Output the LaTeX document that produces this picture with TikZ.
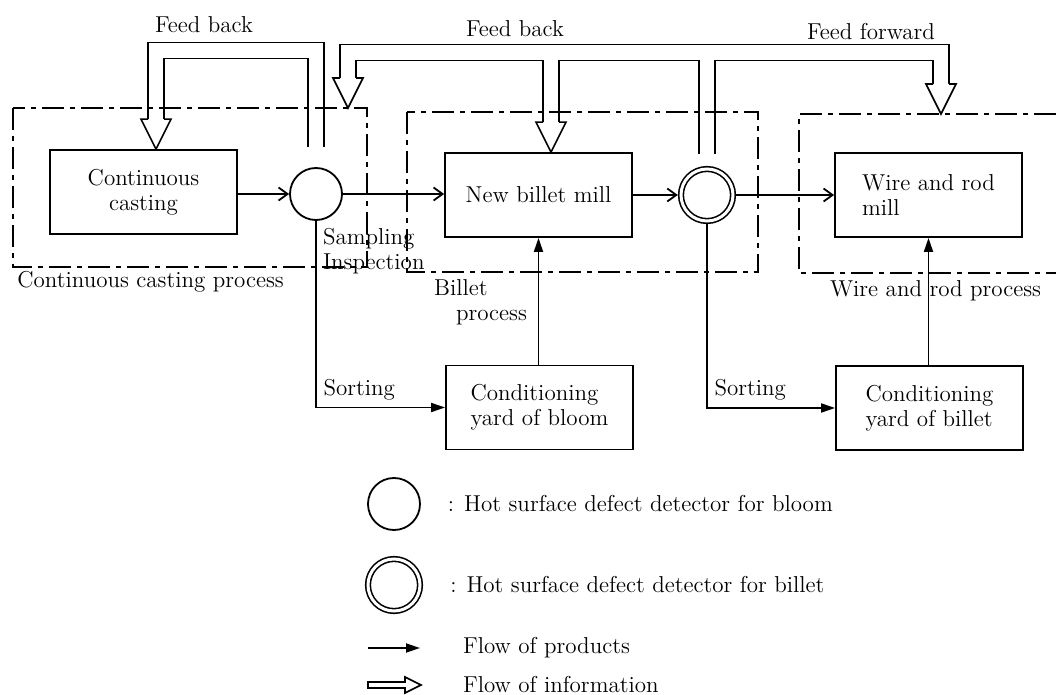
\documentclass[tikz,border=0pt]{standalone}
\usepackage{tikz}
\usetikzlibrary{arrows.meta,positioning}

\tikzset{
  box/.style={draw, line width=0.9pt, minimum width=93.5pt, minimum height=42pt, align=center},
  detbloom/.style={draw, circle, line width=0.9pt, minimum size=26pt, inner sep=0pt},
  detbillet/.style={draw, circle, line width=0.8pt, double, double distance=1.5pt, minimum size=26pt, inner sep=0pt, outer sep=1.6pt},
  procframe/.style={line width=0.8pt, dash pattern=on 11pt off 3pt on 2.5pt off 3pt},
  flow/.style={line width=0.9pt, -{Straight Barb[length=4.5pt,width=6.5pt]}},
  flowf/.style={line width=0.9pt, -{Triangle[length=7pt,width=4.5pt]}},
  info/.style={line width=0.8pt, double, double distance=7.2pt},
  infohead/.pic={\filldraw[line width=0.8pt, fill=white] (-8,-30) -- (-15,-30) -- (0,0) -- (15,-30) -- (8,-30);},
}

\begin{document}
\begin{tikzpicture}[x=0.5pt, y=-0.5pt, font=\fontsize{11.5}{12.5}\selectfont]
\useasboundingbox (0,0) rectangle (1056,695);
% Plant
\node[box] (cc) at (143.5,192) {Continuous\\casting};
\node[detbloom] (det1) at (316,194) {};
\node[box] (nbm) at (538.5,195) {New billet mill};
\node[detbillet] (det2) at (707,195) {};
\node[box, align=left] (wrm) at (928.5,195) {Wire and rod\\mill};
\node[box, align=left] (ybl) at (539.5,407.5) {Conditioning\\yard of bloom};
\node[box, align=left] (ybt) at (929.5,408) {Conditioning\\yard of billet};
% Process frames
\coordinate (ccpnw) at (13,108);
\coordinate (ccpse) at (367,267);
\coordinate (bpnw) at (407,112);
\coordinate (bpse) at (758,272);
\coordinate (bpsw) at (bpnw |- bpse);
\coordinate (wrpnw) at (799,114);
\coordinate (wrpsw) at (799,273);
% Information flow
\coordinate (t1) at (156,0 |- cc.north);
\coordinate (t2) at (348,0 |- ccpnw);
\coordinate (t3) at (551,0 |- nbm.north);
\coordinate (t4) at (941,0 |- wrpnw);
\draw[info] ([yshift=10pt]det1.north) |- (156,50.5) -- ([yshift=15pt]t1);
\draw[info] ([yshift=6pt]det2.north) |- (348,52.5) -- ([yshift=15pt]t2)
  (551,52.5) -- ([yshift=15pt]t3)
  (707,52.5) -| ([yshift=15pt]t4);
\pic at (t1) {infohead};
\pic at (t2) {infohead};
\pic at (t3) {infohead};
\pic at (t4) {infohead};
\node[anchor=base] (fb1) at (204,33) {Feed back};
\node[anchor=base] (fb2) at (515,37) {Feed back};
\node[anchor=base] (ff) at (871,40) {Feed forward};
% Frames
\draw[procframe] (ccpnw) rectangle (ccpse);
\draw[procframe] (bpnw) rectangle (bpse);
\draw[procframe] (1056,114) -- (wrpnw) -- (wrpsw) -- (1056,273);
\node[anchor=north west, inner sep=2pt] (ccpl) at (ccpnw |- ccpse) {Continuous casting process};
\node[anchor=north west, align=left] (bpl) at ([xshift=10pt]bpsw) {Billet\\\hspace*{11pt}process};
\node[anchor=north west] (wrpl) at ([xshift=12pt]wrpsw) {Wire and rod process};
% Products flow
\draw[flow] (cc.east |- det1) -- (det1);
\draw[flow] (det1) -- (det1 -| nbm.west);
\draw[flow] (nbm) -- (det2);
\draw[flow] (det2) -- (wrm);
\node[anchor=north west, align=left] (smp) at (det1.south) {Sampling\\Inspection};
\draw[flowf] (det1) |- (ybl) node[pos=0.5, anchor=south west] {Sorting};
\draw[flowf] (det2) |- (ybt) node[pos=0.5, anchor=south west] {Sorting};
\draw[flowf] (ybl.north -| nbm.south) -- (nbm.south);
\draw[flowf] (ybt.north -| wrm.south) -- (wrm.south);
% Legend
\node[detbloom] (lg1) at (394,504) {};
\node[right=10pt of lg1] (lg1t) {: Hot surface defect detector for bloom};
\node[detbillet] (lg2) at (394,585) {};
\node[right=10pt of lg2] (lg2t) {: Hot surface defect detector for billet};
\coordinate (lp0) at (368,648);
\coordinate (lp1) at (420,648);
\draw[flowf] (lp0) -- (lp1);
\node[anchor=west] (lg3t) at (456,648) {Flow of products};
\draw[line width=0.8pt] (368,682) -- (405,682) -- (405,677) -- (421,685) -- (405,693) -- (405,688) -- (368,688) -- cycle;
\node[anchor=west] (lg4t) at (456,685) {Flow of information};
\end{tikzpicture}
\end{document}
